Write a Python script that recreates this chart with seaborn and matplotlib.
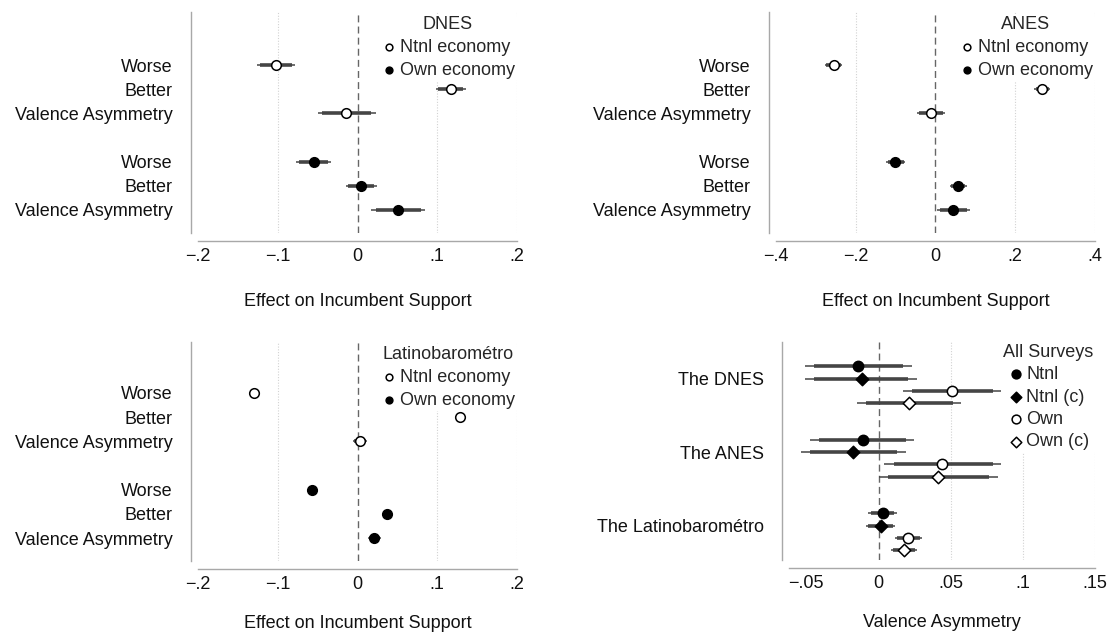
import numpy as np
import pandas as pd
import matplotlib
matplotlib.use("Agg")
import matplotlib.pyplot as plt
import seaborn as sns

# row labels
row_labels = ["Worse", "Better", "Valence Asymmetry", "Worse", "Better", "Valence Asymmetry"]
row_pos = [0, 1, 2, 4, 5, 6]
row_series = ["Ntnl economy"] * 3 + ["Own economy"] * 3

# DNES
dnes_est = [-0.1025, 0.1167, -0.014, -0.055, 0.004, 0.051]
dnes_lo95 = [-0.126, 0.098, -0.050, -0.077, -0.015, 0.0175]
dnes_hi95 = [-0.078, 0.136, 0.023, -0.033, 0.024, 0.085]
dnes_lo90 = [-0.1225, 0.1007, -0.045, -0.0735, -0.0125, 0.023]
dnes_hi90 = [-0.0825, 0.1327, 0.017, -0.0365, 0.0205, 0.079]

# ANES
anes_est = [-0.254, 0.267, -0.012, -0.100, 0.057, 0.044]
anes_lo95 = [-0.277, 0.2475, -0.046, -0.1225, 0.036, 0.004]
anes_hi95 = [-0.233, 0.2875, 0.025, -0.075, 0.079, 0.086]
anes_lo90 = [-0.273, 0.251, -0.040, -0.119, 0.040, 0.011]
anes_hi90 = [-0.236, 0.284, 0.019, -0.079, 0.075, 0.079]

# Latinobarometro
lat_est = [-0.1296, 0.128, 0.003, -0.0567, 0.037, 0.0204]
lat_lo95 = [-0.132, 0.126, -0.0054, -0.059, 0.035, 0.013]
lat_hi95 = [-0.127, 0.130, 0.0125, -0.054, 0.039, 0.030]
lat_lo90 = [-0.1315, 0.1265, -0.004, -0.0585, 0.0355, 0.0145]
lat_hi90 = [-0.1275, 0.1295, 0.011, -0.0545, 0.0385, 0.028]

# All surveys: valence asymmetry (Ntnl, Ntnl (c), Own, Own (c)) per survey
all_groups = ["The DNES", "The ANES", "The Latinobarométro"]
all_series = ["Ntnl", "Ntnl (c)", "Own", "Own (c)"] * 3
all_pos = [0, 1, 2, 3, 6, 7, 8, 9, 12, 13, 14, 15]
all_est = [-0.0143, -0.0115, 0.051, 0.021,
           -0.011, -0.0175, 0.0442, 0.0415,
           0.0028, 0.0016, 0.0203, 0.0177]
all_lo95 = [-0.0507, -0.0507, 0.0173, -0.015,
            -0.0477, -0.054, 0.004, 0.0,
            -0.007, -0.0085, 0.0115, 0.0085]
all_hi95 = [0.023, 0.027, 0.085, 0.057,
            0.0247, 0.019, 0.0846, 0.0825,
            0.0127, 0.0113, 0.030, 0.027]
all_lo90 = [-0.045, -0.045, 0.023, -0.0085,
            -0.0415, -0.0477, 0.0104, 0.0065,
            -0.0055, -0.007, 0.013, 0.010]
all_hi90 = [0.0173, 0.0207, 0.0795, 0.0514,
            0.019, 0.013, 0.079, 0.0763,
            0.011, 0.0098, 0.0285, 0.0255]

ticks_02 = [-0.2, -0.1, 0, 0.1, 0.2]
ticklabels_02 = ["\u2212.2", "\u2212.1", "0", ".1", ".2"]
ticks_04 = [-0.4, -0.2, 0, 0.2, 0.4]
ticklabels_04 = ["\u2212.4", "\u2212.2", "0", ".2", ".4"]
ticks_va = [-0.05, 0, 0.05, 0.1, 0.15]
ticklabels_va = ["\u2212.05", "0", ".05", ".1", ".15"]

sns.set_theme(style="white")
plt.rcParams["font.family"] = ["Liberation Sans", "DejaVu Sans"]
plt.rcParams["axes.unicode_minus"] = True

FS = 13
AXIS_COL = "#a8a8a8"
CI_COL = "#454545"
PX = 0.72  # points per pixel at 100 dpi

styles = {
    "Ntnl economy": dict(marker="o", facecolor="white"),
    "Own economy": dict(marker="o", facecolor="black"),
    "Ntnl": dict(marker="o", facecolor="black"),
    "Ntnl (c)": dict(marker="D", facecolor="black"),
    "Own": dict(marker="o", facecolor="white"),
    "Own (c)": dict(marker="D", facecolor="white"),
}


def style_axis(ax, ticks, ticklabels, minor, xlim, ylim, left_out, xlabel, labelpad):
    ax.set_xlim(*xlim)
    ax.set_ylim(*ylim)
    sns.despine(ax=ax)
    ax.spines["left"].set_position(("outward", left_out * PX))
    ax.spines["bottom"].set_position(("outward", 8 * PX))
    for s in ["left", "bottom"]:
        ax.spines[s].set_color(AXIS_COL)
        ax.spines[s].set_linewidth(1.0)
    ax.spines["bottom"].set_bounds(xlim[0], xlim[1])
    ax.set_xticks(ticks)
    ax.set_xticklabels(ticklabels)
    ax.set_xticks(minor, minor=True)
    ax.tick_params(axis="x", which="major", length=4 * PX, width=0.8, color=AXIS_COL,
                   labelsize=FS, pad=2, labelcolor="#111111")
    ax.tick_params(axis="x", which="minor", length=2.5 * PX, width=0.7, color=AXIS_COL)
    ax.tick_params(axis="y", length=0, labelsize=FS, pad=18 * PX, labelcolor="#111111")
    for t in ticks[1:]:
        if t != 0:
            ax.axvline(t, color="#d2d2d2", lw=0.8, ls=(0, (1, 1.5)), zorder=0)
    ax.axvline(0, color="#666666", lw=1.0, ls=(0, (5, 3)), zorder=1)
    ax.set_xlabel(xlabel, fontsize=FS, labelpad=labelpad, color="#111111")
    ax.set_ylabel("")


def draw_coefs(ax, df, ms, ms_d):
    ax.hlines(df["pos"], df["lo95"], df["hi95"], color=CI_COL, lw=1.1, zorder=2)
    ax.hlines(df["pos"], df["lo90"], df["hi90"], color=CI_COL, lw=2.6, zorder=2)
    for name, sub in df.groupby("series", sort=False):
        st = styles[name]
        sns.scatterplot(data=sub, x="est", y="pos", ax=ax, marker=st["marker"],
                        s=ms_d if st["marker"] == "D" else ms,
                        color=st["facecolor"], edgecolor="black", linewidth=1.1,
                        zorder=3, label=name)


def panel_df(est, lo95, hi95, lo90, hi90, pos, series):
    return pd.DataFrame({"est": est, "lo95": lo95, "hi95": hi95, "lo90": lo90,
                         "hi90": hi90, "pos": pos, "series": series})


fig = plt.figure(figsize=(11.12, 6.34), dpi=100)
W, H = 1112, 634


def rect(x0, x1, y_top, y_bot):
    return [x0 / W, 1 - y_bot / H, (x1 - x0) / W, (y_bot - y_top) / H]


ax1 = fig.add_axes(rect(198, 517, 12, 233))
ax2 = fig.add_axes(rect(775.7, 1095, 12, 233))
ax3 = fig.add_axes(rect(198, 517, 342, 561))
ax4 = fig.add_axes(rect(788.3, 1095, 342, 560))

minor_02 = np.arange(-0.2, 0.2001, 0.025)
minor_04 = np.concatenate([np.arange(-0.4, -0.2, 0.05), np.arange(-0.2, 0.2001, 0.025),
                           np.arange(0.25, 0.4001, 0.05)])
minor_va = np.arange(-0.0625, 0.1501, 0.0125)

panels = [
    (ax1, "DNES", panel_df(dnes_est, dnes_lo95, dnes_hi95, dnes_lo90, dnes_hi90, row_pos, row_series),
     ticks_02, ticklabels_02, minor_02, (-0.2, 0.2), (6.96, -2.2), 20),
    (ax2, "ANES", panel_df(anes_est, anes_lo95, anes_hi95, anes_lo90, anes_hi90, row_pos, row_series),
     ticks_04, ticklabels_04, minor_04, (-0.4, 0.4), (6.96, -2.2), 20),
    (ax3, "Latinobarométro", panel_df(lat_est, lat_lo95, lat_hi95, lat_lo90, lat_hi90, row_pos, row_series),
     ticks_02, ticklabels_02, minor_02, (-0.2, 0.2), (6.95, -2.1), 16),
]

for ax, title, df, ticks, tlabels, minor, xlim, ylim, lpad in panels:
    draw_coefs(ax, df, 48, 34)
    style_axis(ax, ticks, tlabels, minor, xlim, ylim, 7, "Effect on Incumbent Support", lpad)
    ax.set_yticks(row_pos)
    ax.set_yticklabels(row_labels)
    leg = ax.legend(title=title, loc="upper right", bbox_to_anchor=(1.0, 0.99),
                    fontsize=FS, title_fontsize=FS, markerscale=0.7, frameon=True,
                    facecolor="white", edgecolor="white", framealpha=1,
                    handletextpad=0.1, handlelength=1.0, labelspacing=0.32,
                    borderpad=0.1, borderaxespad=0)
    leg.set_zorder(1.5)

# All surveys panel
df4 = panel_df(all_est, all_lo95, all_hi95, all_lo90, all_hi90, all_pos, all_series)
draw_coefs(ax4, df4, 55, 40)
style_axis(ax4, ticks_va, ticklabels_va, minor_va, (-0.0622, 0.15), (15.8, -2.0), 6.6,
           "Valence Asymmetry", 16)
ax4.set_yticks([1, 7, 13])
ax4.set_yticklabels(all_groups)
leg = ax4.legend(title="All Surveys", loc="upper right", bbox_to_anchor=(1.0, 1.0),
                 fontsize=FS, title_fontsize=FS, markerscale=0.85, frameon=True,
                 facecolor="white", edgecolor="white", framealpha=1,
                 handletextpad=0.1, handlelength=1.0, labelspacing=0.3,
                 borderpad=0.1, borderaxespad=0)
leg.set_zorder(1.5)

fig.savefig("out.png", dpi=100)
